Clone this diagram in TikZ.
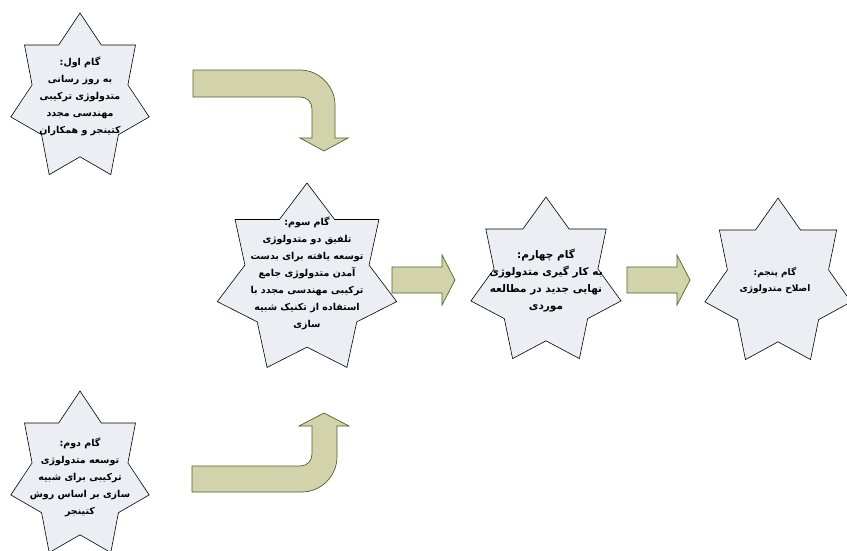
\documentclass[tikz,border=0pt]{standalone}
\usepackage{fontspec}
\newfontfamily\arabicfont[Script=Arabic]{DejaVu Sans}
\TeXXeTstate=1
\usetikzlibrary{calc}
\definecolor{starfill}{RGB}{236,238,244}
\definecolor{bandfill}{RGB}{210,211,170}
\definecolor{bandline}{RGB}{79,98,40}
\newcommand{\fa}[1]{\beginR #1\endR}
\tikzset{
    gam/.style={font=\arabicfont\bfseries\fontsize{9.5}{17}\selectfont, align=center, inner sep=0pt},
    starshape/.style={draw=black, fill=starfill, line width=0.6pt, line join=miter},
    band/.style={draw=bandline, fill=bandfill, line width=0.7pt, line join=miter},
}
% seven point star round a named point: centre, x radius, y radius
\newcommand{\sevenstar}[3]{%
    \draw[starshape] ($(#1)+(-90:#2 and #3)$)
        \foreach \k in {1,...,13}{ -- ($(#1)+({-90+\k*180/7}:{#2*(1-0.308*mod(\k,2))} and {#3*(1-0.308*mod(\k,2))})$) }
        -- cycle;}

\begin{document}
\begin{tikzpicture}[x=1pt, y=-1pt]
    \useasboundingbox (0,0) rectangle (847,550);
    \clip (0,0) rectangle (847,550);

    \coordinate (c1) at (80,98);
    \coordinate (c2) at (80,476);
    \coordinate (c3) at (307,280);
    \coordinate (c4) at (546,282);
    \coordinate (c5) at (778,283);

    % block arrows
    \draw[band] (193,70) -- (300,70) .. controls (319,70) and (335,86) .. (335,105) -- (335,138)
        -- (348,138) -- (324,151) -- (300,138) -- (312,138) -- (312,109)
        .. controls (312,102) and (307,97) .. (300,97) -- (193,97) -- cycle;
    \draw[band] (192,466) -- (300,466) .. controls (307,466) and (312,461) .. (312,454) -- (312,426)
        -- (299,426) -- (324,413) -- (349,426) -- (337,426) -- (337,457)
        .. controls (337,476) and (321,492) .. (302,492) -- (192,492) -- cycle;
    \draw[band] (392,267) -- (442,267) -- (442,255) -- (455,280) -- (442,305)
        -- (442,293) -- (392,293) -- cycle;
    \draw[band] (627,267) -- (677,267) -- (677,255) -- (690,280) -- (677,305)
        -- (677,293) -- (627,293) -- cycle;

    % stars
    \sevenstar{c1}{71}{85}
    \sevenstar{c2}{71}{85}
    \sevenstar{c3}{92}{97}
    \sevenstar{c4}{77}{85}
    \sevenstar{c5}{75}{85}

    \node[gam] (s1) at ($(c1)+(0,-2)$) {\fa{گام اول:}\\\fa{به روز رسانی}\\\fa{متدولوژی ترکیبی}\\\fa{مهندسی مجدد}\\\fa{کتینجر و همکاران}};
    \node[gam] (s2) at ($(c2)+(0,1)$) {\fa{گام دوم:}\\\fa{توسعه متدولوژی}\\\fa{ترکیبی برای شبیه}\\\fa{سازی بر اساس روش}\\\fa{کتینجر}};
    \node[gam] (s3) at ($(c3)+(0,-7)$) {\fa{گام سوم:}\\\fa{تلفیق دو متدولوژی}\\\fa{توسعه یافته  برای بدست}\\\fa{آمدن متدولوژی جامع}\\\fa{ترکیبی مهندسی مجدد با}\\\fa{استفاده از تکنیک شبیه}\\\fa{سازی}};
    \node[gam, font=\arabicfont\bfseries\fontsize{10.5}{17}\selectfont] (s4) at ($(c4)+(0,-2)$) {\fa{گام چهارم:}\\\fa{به کار گیری متدولوژی}\\\fa{نهایی جدید در مطالعه}\\\fa{موردی}};
    \node[gam, font=\arabicfont\bfseries\fontsize{9}{16}\selectfont] (s5) at ($(c5)+(-3,-3)$) {\fa{گام پنجم:}\\\fa{اصلاح متدولوژی}};
\end{tikzpicture}
\end{document}
